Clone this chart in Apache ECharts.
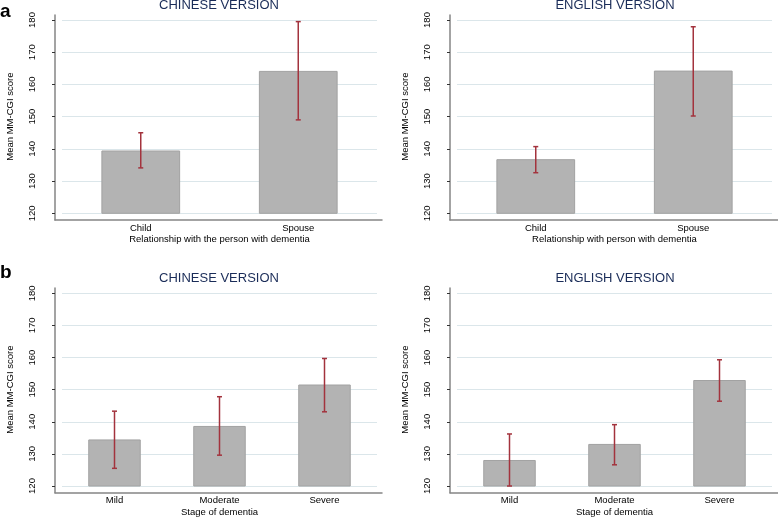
<!DOCTYPE html>
<html>
<head>
<meta charset="utf-8">
<script src="https://cdn.jsdelivr.net/npm/echarts@6/dist/echarts.min.js"></script>
<style>
html,body{margin:0;padding:0;background:#fff;}
#chart{width:778px;height:518px;}
</style>
</head>
<body>
<div id="chart"></div>
<script>
// ---- data ----
const relationshipCategories = ['Child', 'Spouse'];
const stageCategories = ['Mild', 'Moderate', 'Severe'];

const chineseRelationshipMean = [139.5, 164.2];
const chineseRelationshipLow  = [134.1, 149.0];
const chineseRelationshipHigh = [145.0, 179.5];

const englishRelationshipMean = [136.8, 164.3];
const englishRelationshipLow  = [132.6, 150.2];
const englishRelationshipHigh = [140.7, 177.9];

const chineseStageMean = [134.5, 138.7, 151.6];
const chineseStageLow  = [125.5, 129.6, 143.1];
const chineseStageHigh = [143.3, 147.8, 159.7];

const englishStageMean = [128.1, 133.1, 153.0];
const englishStageLow  = [120.0, 126.6, 146.4];
const englishStageHigh = [136.2, 139.1, 159.3];

const yMin = 120, yMax = 180, yStep = 10;
const panelTitles = ['CHINESE VERSION', 'ENGLISH VERSION', 'CHINESE VERSION', 'ENGLISH VERSION'];
const xAxisNames = ['Relationship with the person with dementia', 'Relationship with person with dementia', 'Stage of dementia', 'Stage of dementia'];
const yAxisName = 'Mean MM-CGI score';
const panelLetters = ['a', 'b'];

// ---- layout ----
const FONT = 'Liberation Sans, Arial, Helvetica, sans-serif';
const layouts = [
  {dl: 62,  dt: 20,    dh: 193.3, fl: 55,  ft: 15,  fr: 382, fb: 220,   tx: 219, ty: 5,   ng: 14},
  {dl: 457, dt: 20,    dh: 193.3, fl: 450, ft: 15,  fr: 778, fb: 220,   tx: 615, ty: 5,   ng: 14},
  {dl: 62,  dt: 293.3, dh: 193.4, fl: 55,  ft: 288, fr: 382, fb: 492.7, tx: 219, ty: 278, ng: 15},
  {dl: 457, dt: 293.3, dh: 193.4, fl: 450, ft: 288, fr: 778, fb: 492.7, tx: 615, ty: 278, ng: 15}
];
const panels = [
  {cats: relationshipCategories, mean: chineseRelationshipMean, low: chineseRelationshipLow, high: chineseRelationshipHigh},
  {cats: relationshipCategories, mean: englishRelationshipMean, low: englishRelationshipLow, high: englishRelationshipHigh},
  {cats: stageCategories, mean: chineseStageMean, low: chineseStageLow, high: chineseStageHigh},
  {cats: stageCategories, mean: englishStageMean, low: englishStageLow, high: englishStageHigh}
];

const grid = [], xAxis = [], yAxis = [], series = [], graphic = [];
const axisColor = '#858585';
const errColor = '#a3333d';
const textColor = '#000000';

panels.forEach((p, i) => {
  const L = layouts[i];
  const dataW = 315;
  grid.push({left: L.dl, top: L.dt, width: dataW, height: L.dh, containLabel: false});
  grid.push({left: L.fl, top: L.ft, width: L.fr - L.fl, height: L.fb - L.ft, containLabel: false});
  const gD = 2 * i, gF = 2 * i + 1;

  xAxis.push({
    gridIndex: gD, type: 'category', data: p.cats,
    offset: L.fb - (L.dt + L.dh),
    axisLine: {show: false}, axisTick: {show: false},
    axisLabel: {margin: 3, fontSize: 9.5, color: textColor, fontFamily: FONT},
    name: xAxisNames[i], nameLocation: 'middle', nameGap: L.ng,
    nameTextStyle: {fontSize: 9.5, color: textColor, fontFamily: FONT},
    splitLine: {show: false}
  });
  xAxis.push({
    gridIndex: gF, type: 'value', min: 0, max: 1,
    axisLine: {show: true, onZero: false, lineStyle: {color: axisColor, width: 1.5}},
    axisTick: {show: false}, axisLabel: {show: false}, splitLine: {show: false}
  });
  yAxis.push({
    gridIndex: gD, type: 'value', min: yMin, max: yMax, interval: yStep,
    offset: L.dl - L.fl,
    axisLine: {show: false},
    axisTick: {show: true, length: 3, lineStyle: {color: '#333', width: 1}},
    axisLabel: {rotate: 90, margin: 18, fontSize: 9.5, color: textColor, fontFamily: FONT},
    splitLine: {show: true, lineStyle: {color: '#dbe6ea', width: 1}},
    name: yAxisName, nameLocation: 'middle', nameGap: 40, nameRotate: 90,
    nameTextStyle: {fontSize: 9.5, color: textColor, fontFamily: FONT}
  });
  yAxis.push({
    gridIndex: gF, type: 'value', min: 0, max: 1,
    axisLine: {show: true, onZero: false, lineStyle: {color: axisColor, width: 1.5}},
    axisTick: {show: false}, axisLabel: {show: false}, splitLine: {show: false}
  });

  series.push({
    type: 'bar', xAxisIndex: gD, yAxisIndex: gD,
    data: p.mean, barWidth: '50%',
    itemStyle: {color: '#b3b3b3', borderColor: '#a2a2a2', borderWidth: 1},
    silent: true, z: 2
  });
  series.push({
    type: 'custom', xAxisIndex: gD, yAxisIndex: gD, z: 5, silent: true,
    data: p.cats.map((c, k) => [k, p.low[k], p.high[k]]),
    renderItem: function (params, api) {
      const x = api.value(0);
      const top = api.coord([x, api.value(2)]);
      const bot = api.coord([x, api.value(1)]);
      const hw = 2.5;
      const style = {stroke: errColor, lineWidth: 1.5};
      return {
        type: 'group',
        children: [
          {type: 'line', shape: {x1: top[0], y1: top[1], x2: bot[0], y2: bot[1]}, style: style},
          {type: 'line', shape: {x1: top[0] - hw, y1: top[1], x2: top[0] + hw, y2: top[1]}, style: style},
          {type: 'line', shape: {x1: bot[0] - hw, y1: bot[1], x2: bot[0] + hw, y2: bot[1]}, style: style}
        ]
      };
    }
  });

  graphic.push({
    type: 'text', x: L.tx, y: L.ty,
    style: {text: panelTitles[i], fill: '#1a2c58', font: '13px ' + FONT, align: 'center', verticalAlign: 'middle'}
  });
});

graphic.push({type: 'text', x: 0, y: 12, style: {text: panelLetters[0], fill: '#000', font: 'bold 19px ' + FONT, align: 'left', verticalAlign: 'middle'}});
graphic.push({type: 'text', x: 0, y: 273, style: {text: panelLetters[1], fill: '#000', font: 'bold 19px ' + FONT, align: 'left', verticalAlign: 'middle'}});

const chart = echarts.init(document.getElementById('chart'), null, {renderer: 'canvas'});
chart.setOption({
  animation: false,
  backgroundColor: '#ffffff',
  textStyle: {fontFamily: FONT},
  grid: grid, xAxis: xAxis, yAxis: yAxis, series: series, graphic: graphic
});
</script>
</body>
</html>
